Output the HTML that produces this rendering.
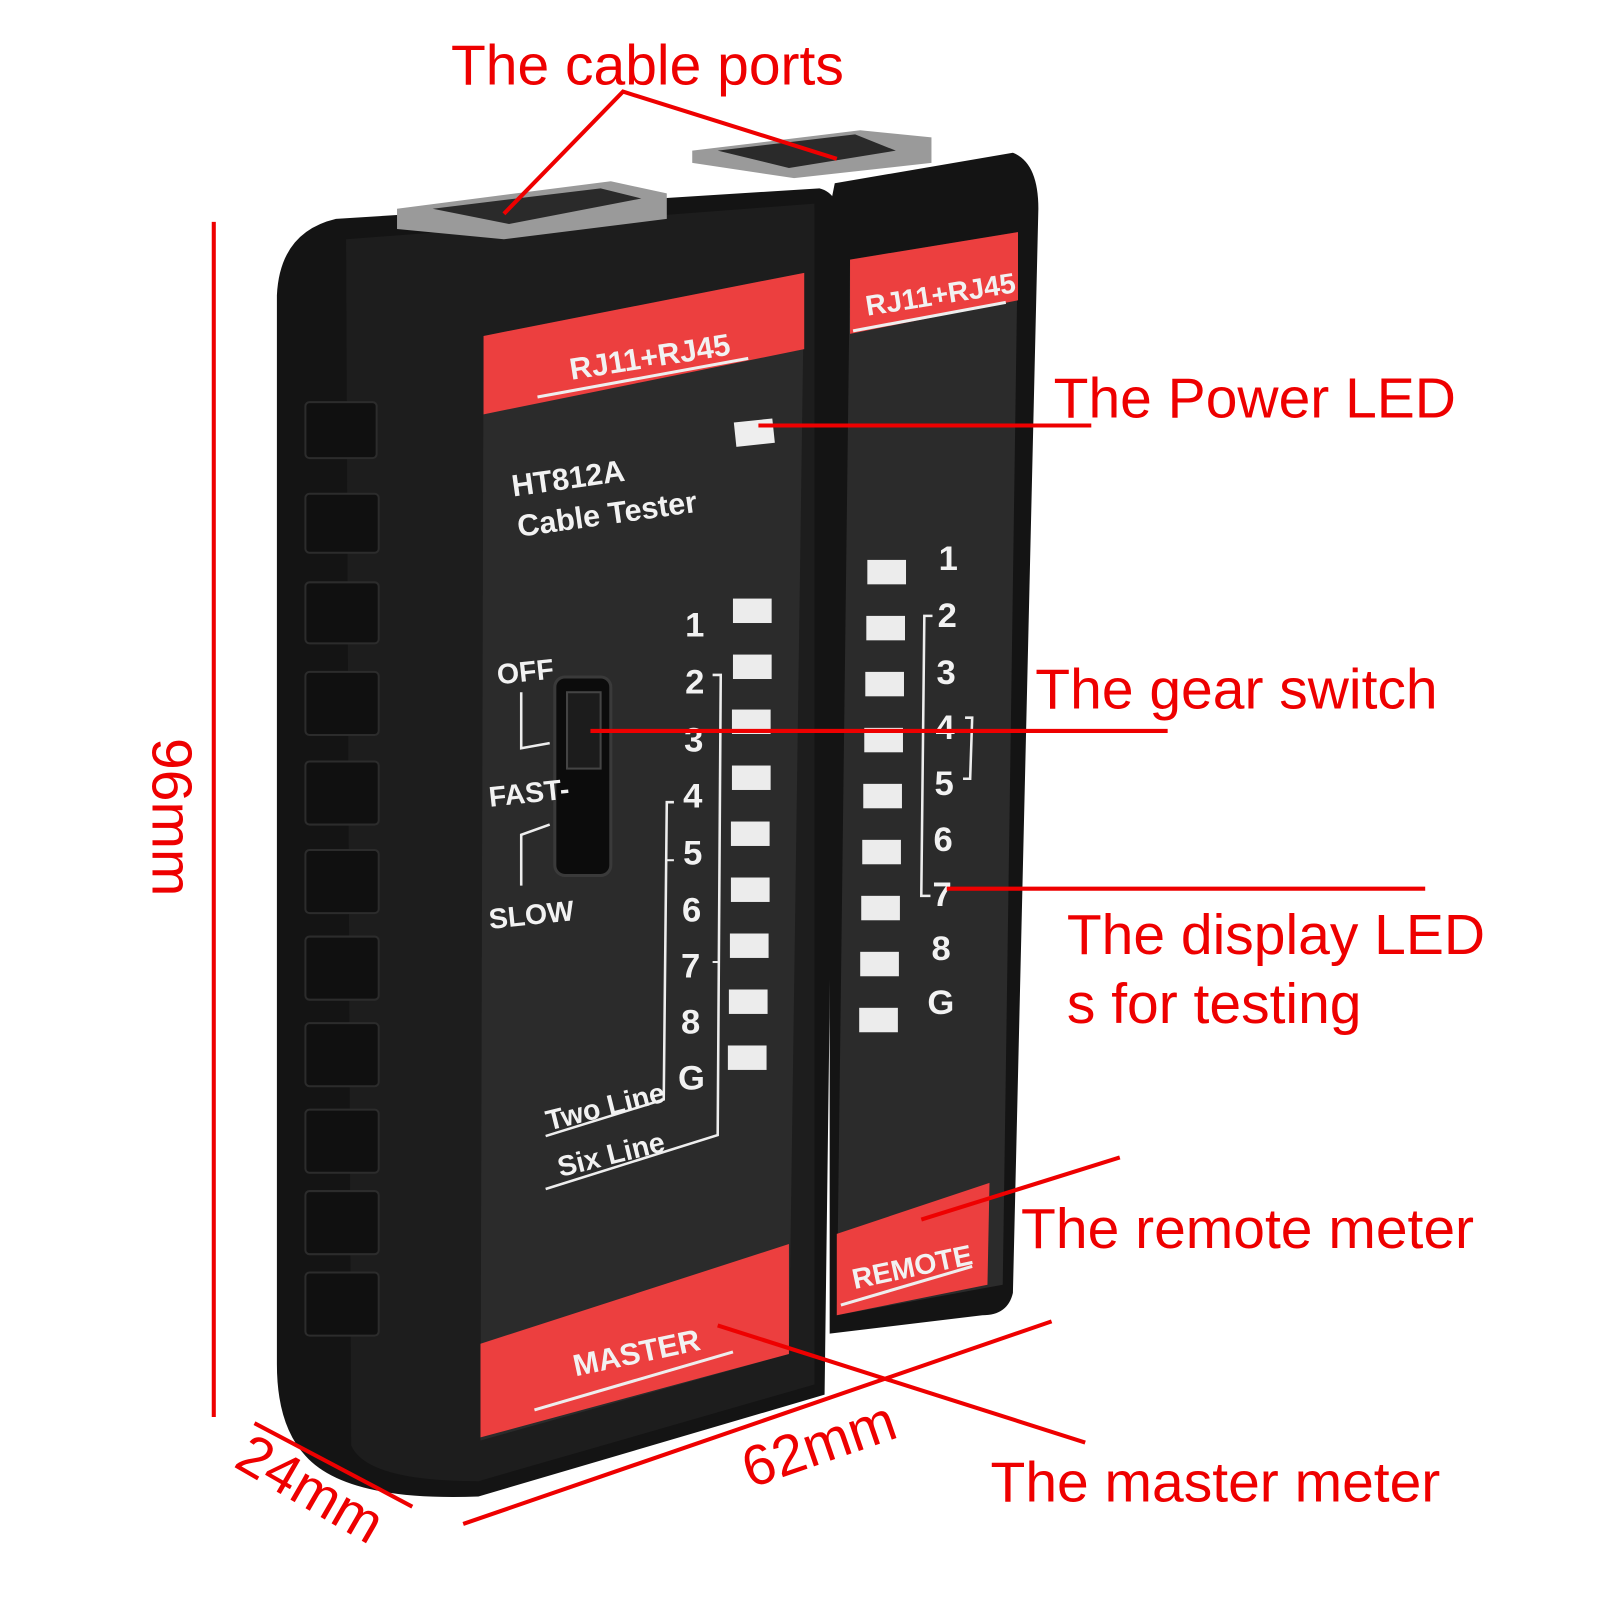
<!DOCTYPE html>
<html><head><meta charset="utf-8"><style>
html,body{margin:0;padding:0;background:#fff;}
svg{display:block}
.lbl{font-family:"Liberation Sans",sans-serif;fill:#ee0000;font-size:56px;}
.w{font-family:"Liberation Sans",sans-serif;fill:#f2f2f2;font-weight:bold;}
</style></head><body>
<svg width="1600" height="1600" viewBox="0 0 1600 1600" xmlns="http://www.w3.org/2000/svg">
<rect width="1600" height="1600" fill="#fff"/>
<g transform="scale(1.018)">
<path d="M330,215 L805,185 Q825,190 825,220 L810,1370 L470,1470 Q340,1475 300,1430 Q272,1400 272,1340 L272,290 Q275,228 330,215 Z" fill="#141414"/>
<path d="M340,235 L800,200 L800,1360 L470,1455 Q360,1455 345,1420 Z" fill="#1d1d1d"/>
<polygon points="390,205 600,178 655,190 655,215 495,235 390,225" fill="#9a9a9a"/>
<polygon points="425,205 590,185 630,195 500,220" fill="#2a2a2a"/>
<g fill="#101010" stroke="#2c2c2c" stroke-width="2">
<rect x="300" y="395" width="70" height="55" rx="4"/>
<rect x="300" y="485" width="72" height="58" rx="4"/>
<rect x="300" y="572" width="72" height="60" rx="4"/>
<rect x="300" y="660" width="72" height="62" rx="4"/>
<rect x="300" y="748" width="72" height="62" rx="4"/>
<rect x="300" y="835" width="72" height="62" rx="4"/>
<rect x="300" y="920" width="72" height="62" rx="4"/>
<rect x="300" y="1005" width="72" height="62" rx="4"/>
<rect x="300" y="1090" width="72" height="62" rx="4"/>
<rect x="300" y="1170" width="72" height="62" rx="4"/>
<rect x="300" y="1250" width="72" height="62" rx="4"/>
</g>
<path d="M475,330 L790,268 L775,1330 L472,1415 Z" fill="#2b2b2b"/>
<path d="M475,330 L790,268 L790,343 L475,407 Z" fill="#ec3f3f"/>
<path d="M472,1320 L775,1222 L775,1330 L472,1412 Z" fill="#ec3f3f"/>
<g transform="rotate(-9 630 340)"><text class="w" x="557" y="362" font-size="30">RJ11+RJ45</text></g>
<line x1="528" y1="390" x2="735" y2="352" stroke="#eee" stroke-width="3"/>
<g transform="rotate(-12 620 1320)"><text class="w" x="560" y="1340" font-size="30">MASTER</text></g>
<line x1="525" y1="1385" x2="720" y2="1328" stroke="#eee" stroke-width="3"/>
<rect x="722" y="413" width="38" height="24" fill="#eee" transform="rotate(-6 741 425)"/>
<g transform="rotate(-8 560 490)"><text class="w" x="505" y="480" font-size="30">HT812A</text><text class="w" x="505" y="520" font-size="30">Cable Tester</text></g>
<rect x="545" y="665" width="55" height="195" rx="10" fill="#0c0c0c" stroke="#3a3a3a" stroke-width="3"/>
<rect x="557" y="680" width="33" height="75" fill="#1c1c1c" stroke="#444" stroke-width="2"/>
<text class="w" x="488" y="670" font-size="28" transform="rotate(-6 510 660)">OFF</text>
<text class="w" x="480" y="790" font-size="28" transform="rotate(-6 505 780)">FAST-</text>
<text class="w" x="480" y="910" font-size="28" transform="rotate(-6 505 900)">SLOW</text>
<path d="M512,680 L512,735 L540,730" fill="none" stroke="#eee" stroke-width="2.5"/>
<path d="M512,870 L512,820 L540,810" fill="none" stroke="#eee" stroke-width="2.5"/>
<g fill="#ececec">
<rect x="720" y="588" width="38" height="24"/><rect x="720" y="643" width="38" height="24"/>
<rect x="719" y="697" width="38" height="24"/><rect x="719" y="752" width="38" height="24"/>
<rect x="718" y="807" width="38" height="24"/><rect x="718" y="862" width="38" height="24"/>
<rect x="717" y="917" width="38" height="24"/><rect x="716" y="972" width="38" height="24"/>
<rect x="715" y="1027" width="38" height="24"/>
</g>
<g class="w" font-size="34">
<text x="673" y="625">1</text><text x="673" y="681">2</text><text x="672" y="738">3</text><text x="671" y="793">4</text><text x="671" y="849">5</text><text x="670" y="905">6</text><text x="669" y="960">7</text><text x="669" y="1015">8</text><text x="666" y="1070">G</text>
</g>
<path d="M700,663 L708,663 L705,1115 L536,1168" fill="none" stroke="#eee" stroke-width="2.5"/>
<path d="M700,945 L705,945" stroke="#eee" stroke-width="2"/>
<path d="M662,788 L655,788 L652,1080 L536,1116" fill="none" stroke="#eee" stroke-width="2.5"/>
<line x1="655" y1="845" x2="662" y2="845" stroke="#eee" stroke-width="2"/>
<g transform="rotate(-14 590 1100)"><text class="w" x="538" y="1098" font-size="28">Two Line</text><text class="w" x="538" y="1145" font-size="28">Six Line</text></g>
<path d="M820,180 L995,150 Q1020,160 1020,205 L995,1270 Q990,1292 965,1292 L815,1310 L815,205 Z" fill="#141414"/>
<polygon points="680,148 845,128 915,135 915,160 780,175 680,160" fill="#9a9a9a"/>
<polygon points="705,148 840,132 880,148 775,165" fill="#2a2a2a"/>
<path d="M835,255 L1000,228 L985,1262 L822,1292 Z" fill="#2b2b2b"/>
<path d="M835,255 L1000,228 L1000,295 L835,328 Z" fill="#ec3f3f"/>
<path d="M822,1212 L972,1162 L970,1262 L822,1292 Z" fill="#ec3f3f"/>
<g transform="rotate(-9 915 280)"><text class="w" x="848" y="300" font-size="28">RJ11+RJ45</text></g>
<line x1="838" y1="325" x2="988" y2="297" stroke="#eee" stroke-width="3"/>
<g transform="rotate(-12 890 1230)"><text class="w" x="833" y="1255" font-size="28">REMOTE</text></g>
<line x1="826" y1="1282" x2="955" y2="1244" stroke="#eee" stroke-width="3"/>
<g fill="#ececec">
<rect x="852" y="550" width="38" height="24"/><rect x="851" y="605" width="38" height="24"/>
<rect x="850" y="660" width="38" height="24"/><rect x="849" y="715" width="38" height="24"/>
<rect x="848" y="770" width="38" height="24"/><rect x="847" y="825" width="38" height="24"/>
<rect x="846" y="880" width="38" height="24"/><rect x="845" y="935" width="38" height="24"/>
<rect x="844" y="990" width="38" height="24"/>
</g>
<g class="w" font-size="34">
<text x="922" y="560">1</text><text x="921" y="616">2</text><text x="920" y="672">3</text><text x="919" y="726">4</text><text x="918" y="781">5</text><text x="917" y="836">6</text><text x="916" y="890">7</text><text x="915" y="943">8</text><text x="911" y="996">G</text>
</g>
<path d="M916,605 L908,605 L905,880 L914,880" fill="none" stroke="#eee" stroke-width="2.5"/>
<path d="M948,705 L955,705 L953,765 L946,765" fill="none" stroke="#eee" stroke-width="2.5"/>
<g stroke="#ee0000" stroke-width="4" fill="none">
<line x1="210" y1="218" x2="210" y2="1392"/>
<line x1="250" y1="1398" x2="405" y2="1480"/>
<line x1="455" y1="1497" x2="1033" y2="1298"/>
<polyline points="495,210 612,90 822,156"/>
<line x1="745" y1="418" x2="1072" y2="418"/>
<line x1="580" y1="718" x2="1147" y2="718"/>
<line x1="930" y1="873" x2="1400" y2="873"/>
<line x1="905" y1="1198" x2="1100" y2="1137"/>
<line x1="705" y1="1302" x2="1066" y2="1417"/>
</g>
<text class="lbl" x="443" y="83">The cable ports</text>
<text class="lbl" x="1035" y="410">The Power LED</text>
<text class="lbl" x="1017" y="696">The gear switch</text>
<text class="lbl" x="1048" y="937">The display LED</text>
<text class="lbl" x="1048" y="1005">s for testing</text>
<text class="lbl" x="1003" y="1226">The remote meter</text>
<text class="lbl" x="973" y="1475">The master meter</text>
<text class="lbl" transform="translate(150,725) rotate(90)">96mm</text>
<text class="lbl" transform="translate(228,1440) rotate(30)">24mm</text>
<text class="lbl" transform="translate(737,1462) rotate(-19)">62mm</text>
</g>
</svg>
</body></html>
